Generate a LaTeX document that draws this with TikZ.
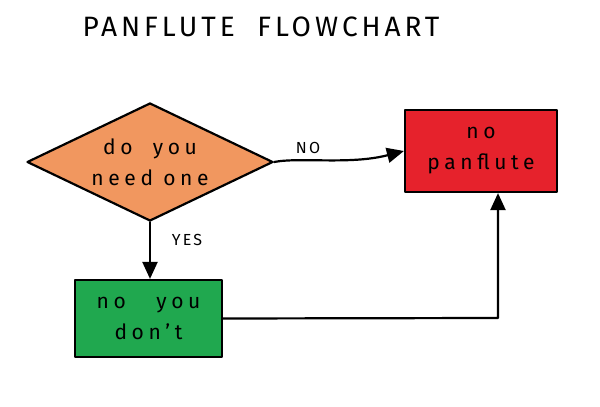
\documentclass[tikz,border=0pt]{standalone}
\usepackage{fontspec}
\setmainfont{Fira Sans}
\usetikzlibrary{shapes.geometric,arrows.meta}
\definecolor{dorange}{HTML}{F1975F}
\definecolor{dred}{HTML}{E6222C}
\definecolor{dgreen}{HTML}{20A84F}
\tikzset{
  outline/.style={draw=black, line width=2.2pt, line join=round},
  lbl/.style={font=\fontsize{21}{31}\selectfont\addfontfeature{LetterSpace=22}, align=center, text=black},
  conn/.style={draw=black, line width=2.2pt, line cap=round, line join=round},
  tip/.style={-{Triangle[length=17pt,width=15pt]}},
  small/.style={font=\fontsize{16}{18}\selectfont\addfontfeature{LetterSpace=14}},
}
\begin{document}
\begin{tikzpicture}[x=1pt,y=1pt]
\useasboundingbox (0,0) rectangle (600,407);
\fill[white] (0,0) rectangle (600,407);
\node[font=\fontsize{28}{30}\selectfont\addfontfeature{LetterSpace=14}] (title) at (261,380) {PANFLUTE\ \ FLOWCHART};
\node[outline, shape=diamond, fill=dorange, minimum width=246pt, minimum height=118pt, inner sep=0pt] (q) at (150,245) {};
\node[lbl] (qtext) at (q.center) {do\ \ you\\need\ one};
\node[outline, rectangle, fill=dred, minimum width=152pt, minimum height=82pt, inner sep=0pt, lbl] (no) at (481,256) {no\\panflute};
\node[outline, rectangle, fill=dgreen, minimum width=147pt, minimum height=77pt, inner sep=0pt, lbl] (yes) at (148.5,88.5) {no\ \ \ you\\don't};
\coordinate (corner) at (498,89);
\draw[conn, tip] (q.east) .. controls (300,250) and (350,242) .. (no.west);
\draw[conn, tip] (q.south) -- (yes.north -| q.south);
\draw[conn, tip] (yes.east) -- (corner) -- (no.south -| corner);
\node[small] (nolbl) at (308,259) {NO};
\node[small] (yeslbl) at (187,167) {YES};
\end{tikzpicture}
\end{document}
